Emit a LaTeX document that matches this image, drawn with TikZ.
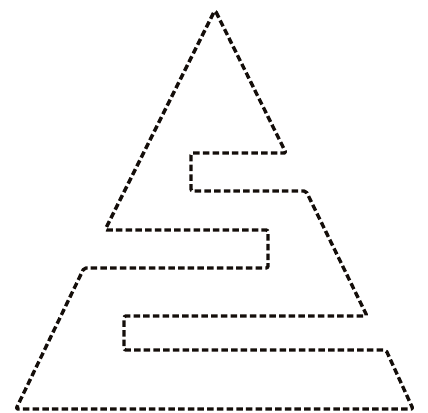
\documentclass[tikz,border=0pt]{standalone}
\begin{document}
\begin{tikzpicture}[x=1pt,y=-1pt,
  outline/.style={line width=3.4pt,draw={rgb,255:red,20;green,14;blue,10},dash pattern=on 6.5pt off 3.2pt,rounded corners=2pt,line join=round}]
\useasboundingbox (0,0) rectangle (428,412);
\coordinate (apex) at (215,10);
\draw[outline] (apex) -- (286,153) -- (191,153) -- (191,191) -- (306,191)
  -- (367,316) -- (124,316) -- (124,350) -- (386,350) -- (413,409)
  -- (16,409) -- (84,268) -- (268,268) -- (268,230) -- (105,230) -- cycle;
\end{tikzpicture}
\end{document}
